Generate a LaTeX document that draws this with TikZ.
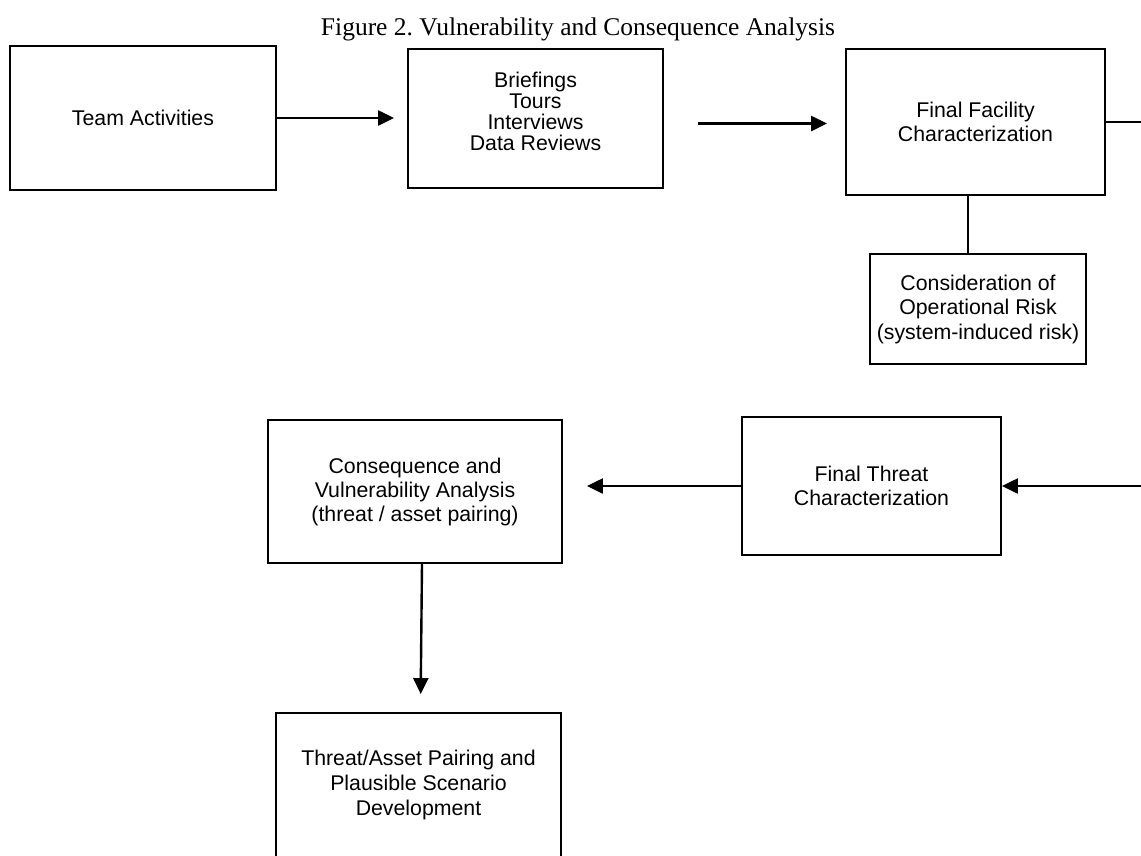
\documentclass[tikz,border=0pt]{standalone}
\usepackage{fontspec}
\setmainfont{Liberation Serif}
\newfontfamily\boxfont{Liberation Sans}
\usetikzlibrary{arrows.meta}
\frenchspacing
\tikzstyle{block} = [rectangle, draw, line width=1.9pt, fill=white, align=center,
                 font=\boxfont\fontsize{21.3}{24}\selectfont, inner sep=0pt]
\tikzstyle{flow} = [line width=2.4pt, -{Triangle[length=16pt,width=15pt]}]

\begin{document}
\begin{tikzpicture}[x=1pt,y=-1pt]

\clip (0,0) rectangle (1141,855);
\fill[white] (0,0) rectangle (1141,855);

\node[anchor=base, font=\fontsize{25.5}{28}\selectfont] (title) at (578,35)
	{Figure 2. Vulnerability and Consequence Analysis};

	%top row
\node [block, minimum width=266pt, minimum height=144pt] (team) at (143,118) {Team Activities};
\node [block, minimum width=255pt, minimum height=139pt,
	font=\boxfont\fontsize{21.3}{21}\selectfont] (brief) at (535.5,118.5)
	{Briefings\\Tours\\Interviews\\Data Reviews\\[-7pt]};
\node [block, minimum width=259pt, minimum height=146pt] (facility) at (975.5,122)
	{Final Facility\\Characterization};
\node [block, minimum width=216pt, minimum height=110pt,
	font=\boxfont\fontsize{21.3}{24.5}\selectfont] (oprisk) at (978,309)
	{Consideration of\\Operational Risk\\(system-induced risk)};

	%second row
\node [block, minimum width=259pt, minimum height=138pt] (threat) at (871.5,486)
	{Final Threat\\Characterization};
\node [block, minimum width=294pt, minimum height=143pt] (conseq) at (415,491.5)
	{Consequence and\\Vulnerability Analysis\\(threat / asset pairing)};
\node [block, minimum width=285pt, minimum height=144pt,
	font=\boxfont\fontsize{21.3}{25}\selectfont] (pairing) at (418.5,785)
	{Threat/Asset Pairing and\\Plausible Scenario\\Development};

\coordinate (edge out) at (1141,122);
\coordinate (edge in) at (1141,486);
\coordinate (riskjoin) at (968,0);

	%connectors
\draw[flow, shorten >=13pt] (team.east) -- (team.east -| brief.west);
\draw[flow, shorten <=34pt, shorten >=18pt] ([yshift=-5pt]brief.east) -- ([yshift=-5pt]brief.east -| facility.west);
\draw[line width=2.2pt] (facility.east) -- (edge out);
\draw[line width=1.9pt] (facility.south -| riskjoin) -- (oprisk.north -| riskjoin);
\draw[flow] (edge in) -- (threat.east);
\draw[flow, shorten >=24pt] (threat.west) -- (threat.west -| conseq.east);
\draw[flow, shorten >=18pt] ([xshift=7pt]conseq.south) -- ([xshift=2pt]pairing.north);

\end{tikzpicture}
\end{document}
